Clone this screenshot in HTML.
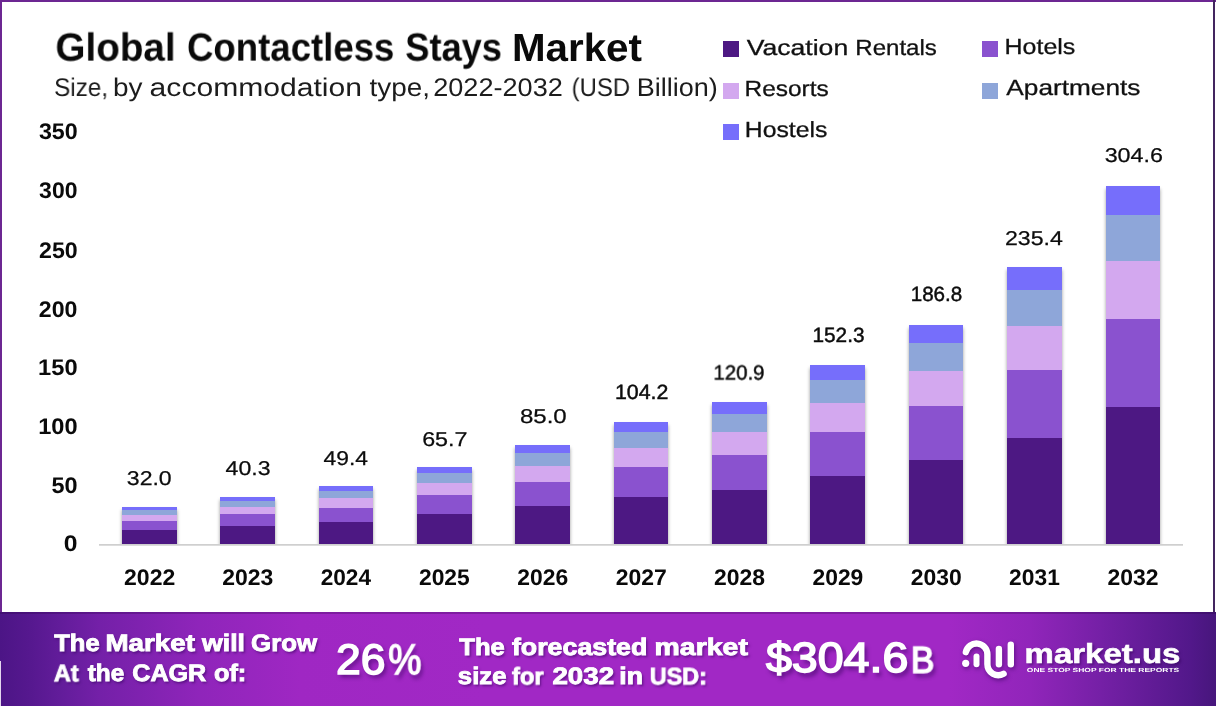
<!DOCTYPE html><html><head><meta charset="utf-8"><title>Global Contactless Stays Market</title><style>
html,body{margin:0;padding:0;background:#fff}
body{width:1216px;height:706px;position:relative;overflow:hidden;font-family:"Liberation Sans",sans-serif;text-rendering:geometricPrecision}
.t{position:absolute;left:0;top:0;will-change:transform;white-space:nowrap;line-height:1;transform-origin:0 0;margin:0;padding:0}
.b{font-weight:bold}
.seg{position:absolute;left:0;width:100%}
.bar{position:absolute;box-shadow:0 3px 3.5px rgba(0,0,0,.4)}
.sq{position:absolute;width:15.5px;height:15.5px}

</style></head><body>
<div style="position:absolute;left:0;top:0;width:1216px;height:2px;background:#6c2692"></div>
<div style="position:absolute;left:0;top:0;width:2px;height:613px;background:#6c2692"></div>
<div style="position:absolute;left:1213px;top:0;width:2px;height:613px;background:#43255f"></div>
<div style="position:absolute;left:0;top:0;width:1216px;height:544px;overflow:hidden">
<div class="bar" style="left:122px;top:507px;width:55px;height:37px">
<div class="seg" style="bottom:0px;height:14px;background:#4d1883"></div>
<div class="seg" style="bottom:14px;height:9px;background:#8a52cf"></div>
<div class="seg" style="bottom:23px;height:6px;background:#d3a8ef"></div>
<div class="seg" style="bottom:29px;height:5px;background:#8ea6d9"></div>
<div class="seg" style="bottom:34px;height:3px;background:#766efb"></div>
</div>
<div class="bar" style="left:220px;top:497px;width:55px;height:47px">
<div class="seg" style="bottom:0px;height:18px;background:#4d1883"></div>
<div class="seg" style="bottom:18px;height:12px;background:#8a52cf"></div>
<div class="seg" style="bottom:30px;height:7px;background:#d3a8ef"></div>
<div class="seg" style="bottom:37px;height:6px;background:#8ea6d9"></div>
<div class="seg" style="bottom:43px;height:4px;background:#766efb"></div>
</div>
<div class="bar" style="left:319px;top:486px;width:54px;height:58px">
<div class="seg" style="bottom:0px;height:22px;background:#4d1883"></div>
<div class="seg" style="bottom:22px;height:14px;background:#8a52cf"></div>
<div class="seg" style="bottom:36px;height:10px;background:#d3a8ef"></div>
<div class="seg" style="bottom:46px;height:7px;background:#8ea6d9"></div>
<div class="seg" style="bottom:53px;height:5px;background:#766efb"></div>
</div>
<div class="bar" style="left:417px;top:467px;width:55px;height:77px">
<div class="seg" style="bottom:0px;height:30px;background:#4d1883"></div>
<div class="seg" style="bottom:30px;height:19px;background:#8a52cf"></div>
<div class="seg" style="bottom:49px;height:12px;background:#d3a8ef"></div>
<div class="seg" style="bottom:61px;height:10px;background:#8ea6d9"></div>
<div class="seg" style="bottom:71px;height:6px;background:#766efb"></div>
</div>
<div class="bar" style="left:515px;top:445px;width:55px;height:99px">
<div class="seg" style="bottom:0px;height:38px;background:#4d1883"></div>
<div class="seg" style="bottom:38px;height:24px;background:#8a52cf"></div>
<div class="seg" style="bottom:62px;height:16px;background:#d3a8ef"></div>
<div class="seg" style="bottom:78px;height:13px;background:#8ea6d9"></div>
<div class="seg" style="bottom:91px;height:8px;background:#766efb"></div>
</div>
<div class="bar" style="left:614px;top:422px;width:54px;height:122px">
<div class="seg" style="bottom:0px;height:47px;background:#4d1883"></div>
<div class="seg" style="bottom:47px;height:30px;background:#8a52cf"></div>
<div class="seg" style="bottom:77px;height:19px;background:#d3a8ef"></div>
<div class="seg" style="bottom:96px;height:16px;background:#8ea6d9"></div>
<div class="seg" style="bottom:112px;height:10px;background:#766efb"></div>
</div>
<div class="bar" style="left:712px;top:402px;width:55px;height:142px">
<div class="seg" style="bottom:0px;height:54px;background:#4d1883"></div>
<div class="seg" style="bottom:54px;height:35px;background:#8a52cf"></div>
<div class="seg" style="bottom:89px;height:23px;background:#d3a8ef"></div>
<div class="seg" style="bottom:112px;height:18px;background:#8ea6d9"></div>
<div class="seg" style="bottom:130px;height:12px;background:#766efb"></div>
</div>
<div class="bar" style="left:810px;top:365px;width:55px;height:179px">
<div class="seg" style="bottom:0px;height:68px;background:#4d1883"></div>
<div class="seg" style="bottom:68px;height:44px;background:#8a52cf"></div>
<div class="seg" style="bottom:112px;height:29px;background:#d3a8ef"></div>
<div class="seg" style="bottom:141px;height:23px;background:#8ea6d9"></div>
<div class="seg" style="bottom:164px;height:15px;background:#766efb"></div>
</div>
<div class="bar" style="left:909px;top:325px;width:54px;height:219px">
<div class="seg" style="bottom:0px;height:84px;background:#4d1883"></div>
<div class="seg" style="bottom:84px;height:54px;background:#8a52cf"></div>
<div class="seg" style="bottom:138px;height:35px;background:#d3a8ef"></div>
<div class="seg" style="bottom:173px;height:28px;background:#8ea6d9"></div>
<div class="seg" style="bottom:201px;height:18px;background:#766efb"></div>
</div>
<div class="bar" style="left:1007px;top:267px;width:55px;height:277px">
<div class="seg" style="bottom:0px;height:106px;background:#4d1883"></div>
<div class="seg" style="bottom:106px;height:68px;background:#8a52cf"></div>
<div class="seg" style="bottom:174px;height:44px;background:#d3a8ef"></div>
<div class="seg" style="bottom:218px;height:36px;background:#8ea6d9"></div>
<div class="seg" style="bottom:254px;height:23px;background:#766efb"></div>
</div>
<div class="bar" style="left:1106px;top:186px;width:54px;height:358px">
<div class="seg" style="bottom:0px;height:137px;background:#4d1883"></div>
<div class="seg" style="bottom:137px;height:88px;background:#8a52cf"></div>
<div class="seg" style="bottom:225px;height:58px;background:#d3a8ef"></div>
<div class="seg" style="bottom:283px;height:46px;background:#8ea6d9"></div>
<div class="seg" style="bottom:329px;height:29px;background:#766efb"></div>
</div>
</div>
<div style="position:absolute;left:99px;top:544px;width:1084px;height:2px;background:linear-gradient(#cfcfcf,#cfcfcf 55%,#ececec)"></div>
<div class="sq" style="left:723px;top:41px;background:#4d1883"></div>
<div class="sq" style="left:723px;top:83px;background:#d3a8ef"></div>
<div class="sq" style="left:723px;top:124px;background:#766efb"></div>
<div class="sq" style="left:982px;top:41px;background:#8a52cf"></div>
<div class="sq" style="left:982px;top:83px;background:#8ea6d9"></div>
<div style="position:absolute;left:0;top:612px;width:1216px;height:94px;background:linear-gradient(90deg,#4c1586 0%,#56188f 2.5%,#621c9a 4.9%,#7420a8 8.2%,#8f25ba 16.4%,#9f27c3 24.7%,#a128c5 40%,#a128c5 78.1%,#9125ba 84.7%,#7520a6 90.5%,#52188a 97.9%,#47167c 100%)"><div style="height:1.5px;background:rgba(40,0,70,.28)"></div></div>
<div style="position:absolute;left:0;top:661px;width:1.3px;height:45px;background:#e4d6ee"></div>
<svg style="position:absolute;left:950px;top:630px;filter:drop-shadow(1.5px 2px 2px rgba(50,0,90,.55))" width="80" height="60" viewBox="950 630 80 60" fill="none" stroke="#fff" stroke-width="6.4" stroke-linecap="round">
<path d="M965.84 652.2 A10.9 10.9 0 0 1 987.4 654.5 L987.4 664.3 A10.9 10.9 0 0 0 1003.6 673.8"/>
<path d="M976.5 656.4 V664.2" stroke-width="6"/>
<path d="M998.9 648.9 V664.2"/>
<path d="M1010.8 644.7 V664.2"/>
<circle cx="965.7" cy="663.3" r="3.6" fill="#fff" stroke="none"/>
</svg>
<div class="t b" style="font-size:39.24px;color:#0a0a0a;transform:translate(55.42px,28.60px) scaleX(0.9841);">Global</div>
<div class="t b" style="font-size:39.24px;color:#0a0a0a;transform:translate(187.01px,28.60px) scaleX(0.9323);">Contactless</div>
<div class="t b" style="font-size:39.24px;color:#0a0a0a;transform:translate(405.25px,28.60px) scaleX(0.9241);">Stays</div>
<div class="t b" style="font-size:39.24px;color:#0a0a0a;transform:translate(511.94px,28.78px) scaleX(1.0282);">Market</div>
<div class="t" style="font-size:25.58px;color:#1c1c1c;transform:translate(54.11px,75.97px) scaleX(0.9492);">Size,</div>
<div class="t" style="font-size:25.58px;color:#1c1c1c;transform:translate(112.94px,76.35px) scaleX(1.0932);">by</div>
<div class="t" style="font-size:25.58px;color:#1c1c1c;transform:translate(149.61px,76.35px) scaleX(1.1764);">accommodation</div>
<div class="t" style="font-size:25.58px;color:#1c1c1c;transform:translate(369.46px,76.35px) scaleX(1.0918);">type,</div>
<div class="t" style="font-size:25.58px;color:#1c1c1c;transform:translate(433.17px,76.35px) scaleX(1.0595);">2022-2032</div>
<div class="t" style="font-size:25.58px;color:#1c1c1c;transform:translate(571.64px,75.97px) scaleX(0.9355);">(USD</div>
<div class="t" style="font-size:25.58px;color:#1c1c1c;transform:translate(636.78px,76.35px) scaleX(1.0563);">Billion)</div>
<div class="t" style="font-size:21.99px;color:#111;-webkit-text-stroke:0.3px #111;transform:translate(746.67px,36.63px) scaleX(1.2094);">Vacation</div>
<div class="t" style="font-size:21.99px;color:#111;-webkit-text-stroke:0.3px #111;transform:translate(855.29px,36.74px) scaleX(1.0940);">Rentals</div>
<div class="t" style="font-size:21.99px;color:#111;-webkit-text-stroke:0.3px #111;transform:translate(744.56px,77.83px) scaleX(1.1116);">Resorts</div>
<div class="t" style="font-size:21.99px;color:#111;-webkit-text-stroke:0.3px #111;transform:translate(744.83px,119.13px) scaleX(1.1249);">Hostels</div>
<div class="t" style="font-size:21.99px;color:#111;-webkit-text-stroke:0.3px #111;transform:translate(1004.55px,35.74px) scaleX(1.1357);">Hotels</div>
<div class="t" style="font-size:21.99px;color:#111;-webkit-text-stroke:0.3px #111;transform:translate(1006.31px,77.33px) scaleX(1.1927);">Apartments</div>
<div class="t b" style="font-size:22.6px;color:#0a0a0a;transform:translate(63.85px,533.29px) scaleX(1.0917);">0</div>
<div class="t b" style="font-size:22.6px;color:#0a0a0a;transform:translate(51.44px,475.22px) scaleX(1.0379);">50</div>
<div class="t b" style="font-size:22.6px;color:#0a0a0a;transform:translate(38.18px,416.07px) scaleX(1.0442);">100</div>
<div class="t b" style="font-size:22.6px;color:#0a0a0a;transform:translate(38.08px,356.85px) scaleX(1.0469);">150</div>
<div class="t b" style="font-size:22.6px;color:#0a0a0a;transform:translate(38.85px,298.77px) scaleX(1.0235);">200</div>
<div class="t b" style="font-size:22.6px;color:#0a0a0a;transform:translate(39.02px,239.62px) scaleX(1.0251);">250</div>
<div class="t b" style="font-size:22.6px;color:#0a0a0a;transform:translate(39.10px,180.42px) scaleX(1.0169);">300</div>
<div class="t b" style="font-size:22.6px;color:#0a0a0a;transform:translate(38.90px,121.35px) scaleX(1.0280);">350</div>
<div class="t b" style="font-size:22.6px;color:#0a0a0a;transform:translate(124.04px,567.37px) scaleX(1.0191);">2022</div>
<div class="t" style="font-size:20.02px;color:#0c0c0c;-webkit-text-stroke:0.25px #0c0c0c;transform:translate(126.79px,468.76px) scaleX(1.1531);">32.0</div>
<div class="t b" style="font-size:22.6px;color:#0a0a0a;transform:translate(222.27px,567.38px) scaleX(1.0165);">2023</div>
<div class="t" style="font-size:20.02px;color:#0c0c0c;-webkit-text-stroke:0.25px #0c0c0c;transform:translate(225.58px,458.59px) scaleX(1.1546);">40.3</div>
<div class="t b" style="font-size:22.6px;color:#0a0a0a;transform:translate(320.68px,567.49px) scaleX(1.0017);">2024</div>
<div class="t" style="font-size:20.02px;color:#0c0c0c;-webkit-text-stroke:0.25px #0c0c0c;transform:translate(323.57px,448.87px) scaleX(1.1419);">49.4</div>
<div class="t b" style="font-size:22.6px;color:#0a0a0a;transform:translate(418.97px,567.37px) scaleX(1.0108);">2025</div>
<div class="t" style="font-size:20.02px;color:#0c0c0c;-webkit-text-stroke:0.25px #0c0c0c;transform:translate(422.14px,429.67px) scaleX(1.1638);">65.7</div>
<div class="t b" style="font-size:22.6px;color:#0a0a0a;transform:translate(517.33px,567.38px) scaleX(1.0133);">2026</div>
<div class="t" style="font-size:20.02px;color:#0c0c0c;-webkit-text-stroke:0.25px #0c0c0c;transform:translate(519.89px,406.97px) scaleX(1.2018);">85.0</div>
<div class="t b" style="font-size:22.6px;color:#0a0a0a;transform:translate(615.77px,567.44px) scaleX(1.0164);">2027</div>
<div class="t" style="font-size:20.61px;color:#0c0c0c;-webkit-text-stroke:0.45px #0c0c0c;transform:translate(614.97px,382.79px) scaleX(1.0361);">104.2</div>
<div class="t b" style="font-size:22.6px;color:#0a0a0a;transform:translate(713.98px,567.37px) scaleX(1.0144);">2028</div>
<div class="t" style="font-size:20.61px;color:#0c0c0c;-webkit-text-stroke:0.45px #0c0c0c;transform:translate(713.39px,363.62px) scaleX(0.9914);">120.9</div>
<div class="t b" style="font-size:22.6px;color:#0a0a0a;transform:translate(812.49px,567.46px) scaleX(1.0115);">2029</div>
<div class="t" style="font-size:20.61px;color:#0c0c0c;-webkit-text-stroke:0.45px #0c0c0c;transform:translate(812.45px,326.32px) scaleX(1.0096);">152.3</div>
<div class="t b" style="font-size:22.6px;color:#0a0a0a;transform:translate(910.75px,567.44px) scaleX(1.0150);">2030</div>
<div class="t" style="font-size:20.61px;color:#0c0c0c;-webkit-text-stroke:0.45px #0c0c0c;transform:translate(910.69px,285.10px) scaleX(1.0003);">186.8</div>
<div class="t b" style="font-size:22.6px;color:#0a0a0a;transform:translate(1009.12px,567.37px) scaleX(1.0085);">2031</div>
<div class="t" style="font-size:20.02px;color:#0c0c0c;-webkit-text-stroke:0.25px #0c0c0c;transform:translate(1004.90px,228.64px) scaleX(1.1564);">235.4</div>
<div class="t b" style="font-size:22.6px;color:#0a0a0a;transform:translate(1107.48px,567.48px) scaleX(1.0159);">2032</div>
<div class="t" style="font-size:20.02px;color:#0c0c0c;-webkit-text-stroke:0.25px #0c0c0c;transform:translate(1104.64px,146.03px) scaleX(1.1649);">304.6</div>
<div class="t b" style="font-size:23.82px;color:#fff;text-shadow:1.5px 2px 2.5px rgba(50,0,90,.6);-webkit-text-stroke:0.9px #fff;transform:translate(54.18px,632.09px) scaleX(1.0740);">The</div>
<div class="t b" style="font-size:23.82px;color:#fff;text-shadow:1.5px 2px 2.5px rgba(50,0,90,.6);-webkit-text-stroke:0.9px #fff;transform:translate(105.41px,632.17px) scaleX(1.1656);">Market</div>
<div class="t b" style="font-size:23.82px;color:#fff;text-shadow:1.5px 2px 2.5px rgba(50,0,90,.6);-webkit-text-stroke:0.9px #fff;transform:translate(202.08px,632.28px) scaleX(1.1157);">will</div>
<div class="t b" style="font-size:23.82px;color:#fff;text-shadow:1.5px 2px 2.5px rgba(50,0,90,.6);-webkit-text-stroke:0.9px #fff;transform:translate(251.07px,632.09px) scaleX(1.0828);">Grow</div>
<div class="t b" style="font-size:23.82px;color:#fff;text-shadow:1.5px 2px 2.5px rgba(50,0,90,.6);-webkit-text-stroke:0.9px #fff;transform:translate(53.84px,662.25px) scaleX(0.9865);">At</div>
<div class="t b" style="font-size:23.82px;color:#fff;text-shadow:1.5px 2px 2.5px rgba(50,0,90,.6);-webkit-text-stroke:0.9px #fff;transform:translate(87.72px,662.28px) scaleX(1.0244);">the</div>
<div class="t b" style="font-size:23.82px;color:#fff;text-shadow:1.5px 2px 2.5px rgba(50,0,90,.6);-webkit-text-stroke:0.9px #fff;transform:translate(132.23px,662.09px) scaleX(1.0552);">CAGR</div>
<div class="t b" style="font-size:23.82px;color:#fff;text-shadow:1.5px 2px 2.5px rgba(50,0,90,.6);-webkit-text-stroke:0.9px #fff;transform:translate(213.95px,662.17px) scaleX(1.0637);">of:</div>
<div class="t b" style="font-size:23.82px;color:#fff;text-shadow:1.5px 2px 2.5px rgba(50,0,90,.6);-webkit-text-stroke:0.9px #fff;transform:translate(459.31px,635.78px) scaleX(1.0748);">The</div>
<div class="t b" style="font-size:23.82px;color:#fff;text-shadow:1.5px 2px 2.5px rgba(50,0,90,.6);-webkit-text-stroke:0.9px #fff;transform:translate(511.92px,635.59px) scaleX(1.1247);">forecasted</div>
<div class="t b" style="font-size:23.82px;color:#fff;text-shadow:1.5px 2px 2.5px rgba(50,0,90,.6);-webkit-text-stroke:0.9px #fff;transform:translate(654.53px,635.67px) scaleX(1.1949);">market</div>
<div class="t b" style="font-size:23.82px;color:#fff;text-shadow:1.5px 2px 2.5px rgba(50,0,90,.6);-webkit-text-stroke:0.9px #fff;transform:translate(457.87px,665.28px) scaleX(1.0797);">size</div>
<div class="t b" style="font-size:23.82px;color:#fff;text-shadow:1.5px 2px 2.5px rgba(50,0,90,.6);-webkit-text-stroke:0.9px #fff;transform:translate(511.92px,665.35px) scaleX(0.9965);">for</div>
<div class="t b" style="font-size:23.82px;color:#fff;text-shadow:1.5px 2px 2.5px rgba(50,0,90,.6);-webkit-text-stroke:0.9px #fff;transform:translate(552.40px,665.17px) scaleX(1.1638);">2032</div>
<div class="t b" style="font-size:23.82px;color:#fff;text-shadow:1.5px 2px 2.5px rgba(50,0,90,.6);-webkit-text-stroke:0.9px #fff;transform:translate(619.30px,665.28px) scaleX(1.1193);">in</div>
<div class="t b" style="font-size:23.82px;color:#fff;text-shadow:1.5px 2px 2.5px rgba(50,0,90,.6);-webkit-text-stroke:0.9px #fff;transform:translate(649.78px,665.35px) scaleX(0.9819);">USD:</div>
<div class="t" style="font-size:42.73px;color:#fff;text-shadow:2.5px 3.5px 4px rgba(50,0,90,.65);-webkit-text-stroke:1.5px #fff;transform:translate(335.95px,638.78px) scaleX(1.0420);">26</div>
<div class="t" style="font-size:42.73px;color:#fff;text-shadow:2.5px 3.5px 4px rgba(50,0,90,.65);-webkit-text-stroke:1.5px #fff;transform:translate(388.29px,639.17px) scaleX(0.8726);">%</div>
<div class="t" style="font-size:42.18px;color:#fff;text-shadow:2.5px 3.5px 4px rgba(50,0,90,.65);-webkit-text-stroke:1.6px #fff;transform:translate(765.94px,637.19px) scaleX(1.1037);">$304.6</div>
<div class="t" style="font-size:37.44px;color:#fff;text-shadow:2.5px 3.5px 4px rgba(50,0,90,.65);-webkit-text-stroke:1.6px #fff;transform:translate(910.80px,641.73px) scaleX(0.9461);">B</div>
<div class="t b" style="font-size:27.55px;color:#fff;text-shadow:1.5px 2px 2.5px rgba(50,0,90,.6);-webkit-text-stroke:0.6px #fff;transform:translate(1024.57px,639.63px) scaleX(1.1974);">market.us</div>
<div class="t b" style="font-size:5.96px;color:#fff;transform:translate(1026.80px,669.22px) scaleX(1.4222);">ONE STOP SHOP FOR THE REPORTS</div>
</body></html>
